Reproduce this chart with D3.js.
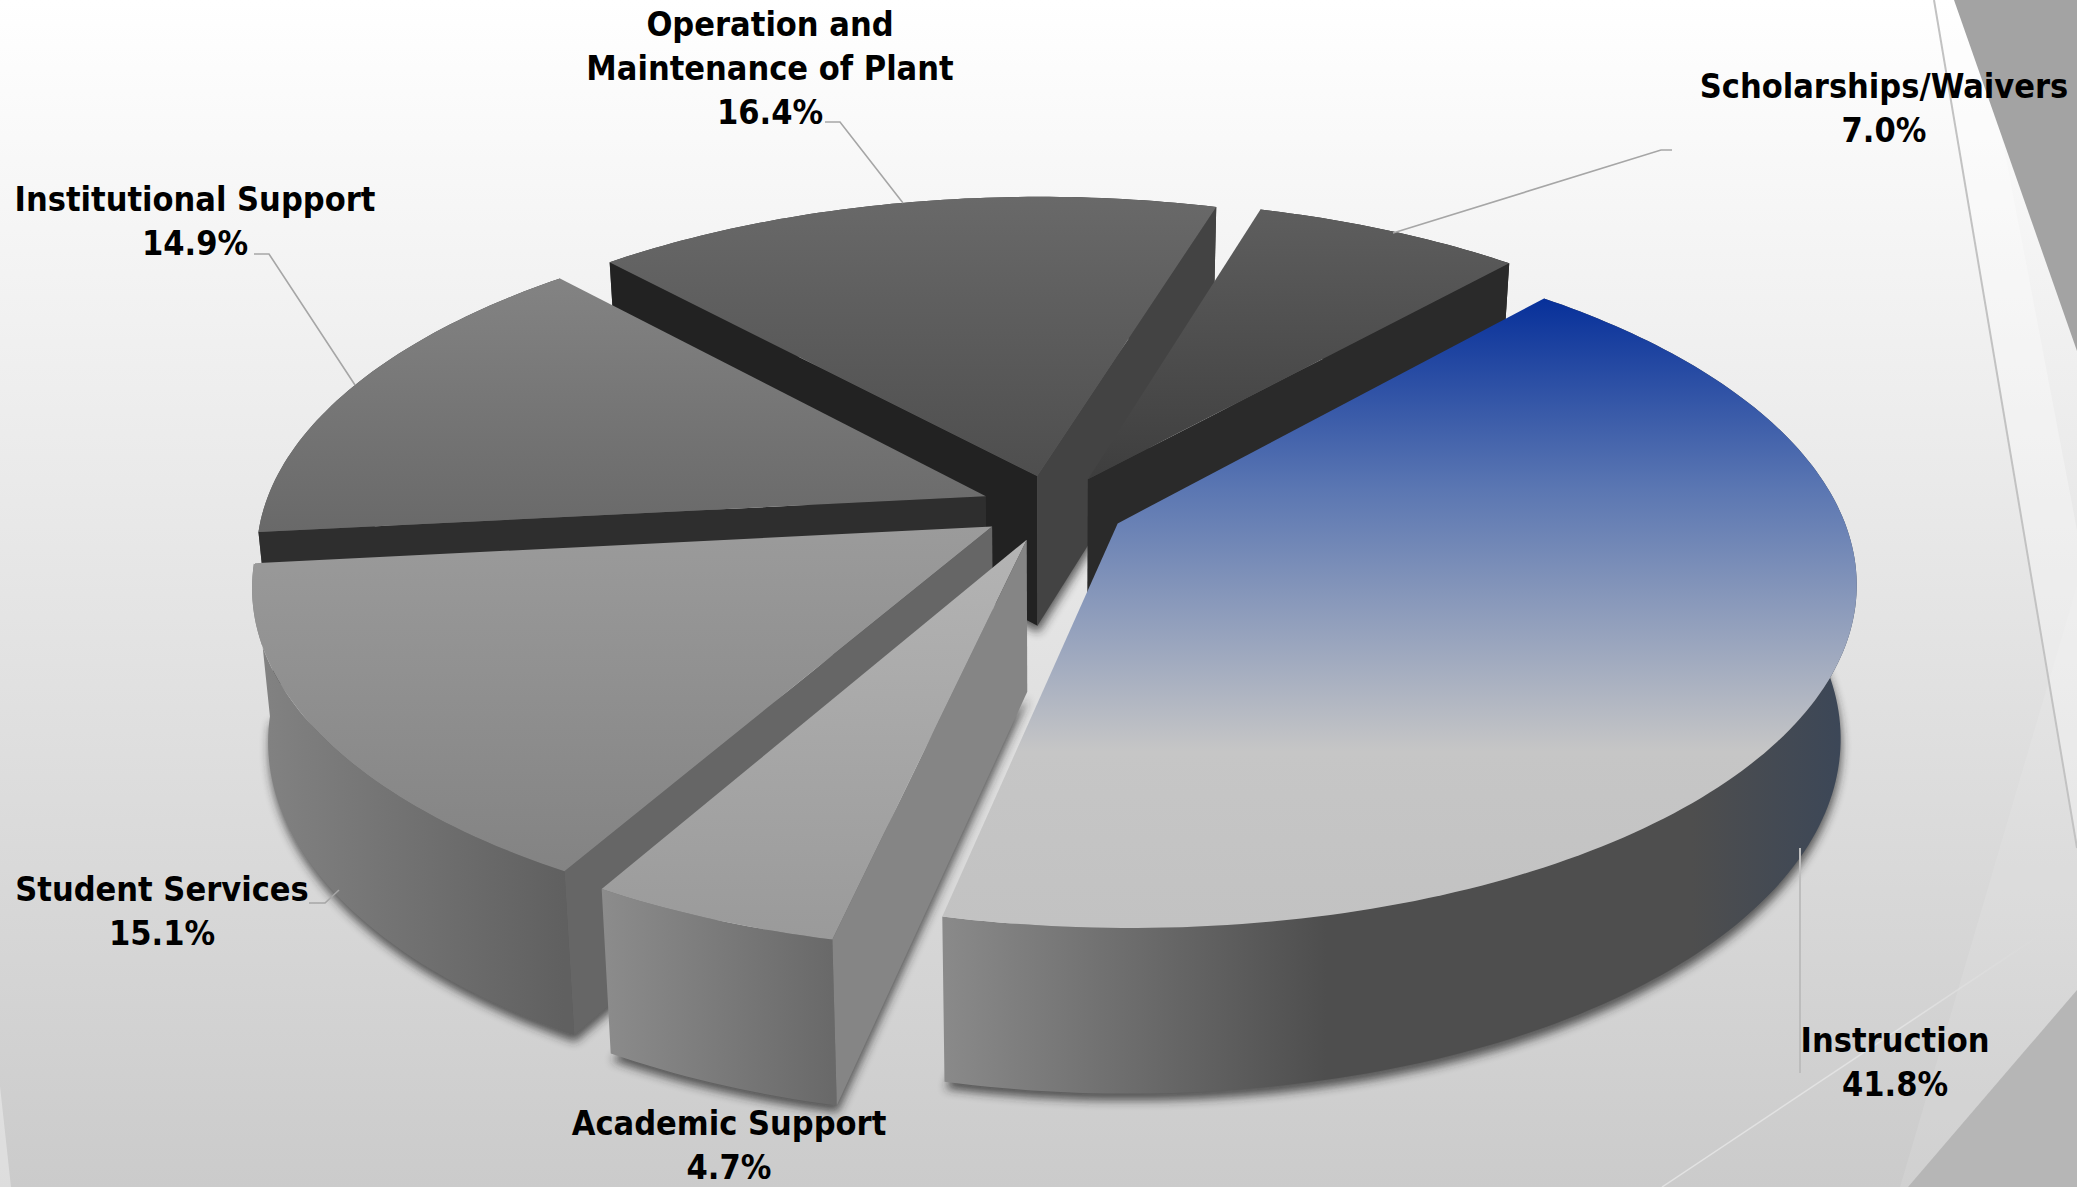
<!DOCTYPE html>
<html><head><meta charset="utf-8">
<script src="https://cdn.jsdelivr.net/npm/d3@7"></script>
<style>html,body{margin:0;padding:0;background:#fff;overflow:hidden}
text{font-family:"DejaVu Sans";font-stretch:condensed;font-weight:bold;fill:#000}</style>
</head><body><svg id="c" width="2077" height="1187"></svg>
<script>
const categories=["Instruction","Academic Support","Student Services","Institutional Support","Operation and Maintenance of Plant","Scholarships/Waivers"];
const values=[41.8,4.7,15.1,14.9,16.4,7.0];
const labelLines=[["Instruction"],["Academic Support"],["Student Services"],["Institutional Support"],["Operation and","Maintenance of Plant"],["Scholarships/Waivers"]];

// styling, one entry per slice
const topStops=[
 [[0,"#07309a"],[.3,"#5a76b2"],[.72,"#c6c6c6"],[1,"#c2c2c2"]],
 [[0,"#b4b4b4"],[1,"#9a9a9a"]],
 [[0,"#9b9b9b"],[1,"#838383"]],
 [[0,"#838383"],[1,"#696969"]],
 [[0,"#696969"],[1,"#4e4e4e"]],
 [[0,"#5e5e5e"],[1,"#3e3e3e"]]];
const rimStops=[
 [[0,"#8a8a8a"],[.42,"#4e4e4e"],[.82,"#4e4e4e"],[1,"#3a4658"]],
 [[0,"#8c8c8c"],[1,"#696969"]],
 [[0,"#838383"],[1,"#606060"]],
 [[0,"#555"],[1,"#444"]],[[0,"#444"],[1,"#333"]],[[0,"#333"],[1,"#222"]]];
const startEdge=["#777","#858585","#666666","#2e2e2e","#222222","#333333"];
const endEdge=["#777","#777","#666","#555","#434343","#2a2a2a"];
const labelPos=[[1895,1040],[729,1123],[162,889],[195,199],[770,24],[1884,86]];
const leaders=[[[1800,848],[1800,1073]],null,[[309,903],[325,903],[339,890]],[[355,385],[269,254],[254,254]],[[903,203],[840,122],[825,122]],[[1393,233],[1661,150],[1672,150]]];
const paintOrder=[4,5,3,2,1,0];

const W=2077,H=1187,cx=1053,cy=508,R=722,K=333.8,P=.1615,D=151,EXPLODE=.1,TAPER=.02,LINE=44,FS=34,START=41.9;
const rad=Math.PI/180;
const svg=d3.select("#c");
const defs=svg.append("defs");
function grad(id,x1,y1,x2,y2,stops){
  const g=defs.append("linearGradient").attr("id",id).attr("gradientUnits","userSpaceOnUse")
    .attr("x1",x1).attr("y1",y1).attr("x2",x2).attr("y2",y2);
  stops.forEach(s=>{const e=g.append("stop").attr("offset",s[0]).attr("stop-color",s[1]); if(s[2]!==undefined)e.attr("stop-opacity",s[2]);});
}
grad("bg",0,0,0,H,[[0,"#ffffff"],[1,"#cbcbcb"]]);
grad("glint",1662,1187,2040,935,[[0,"#e2e2e2",1],[.65,"#e2e2e2",1],[1,"#e2e2e2",0]]);
defs.append("filter").attr("id","sh").attr("x","-10%").attr("y","-10%").attr("width","120%").attr("height","120%")
  .append("feGaussianBlur").attr("stdDeviation",5);

// background
svg.append("rect").attr("width",W).attr("height",H).attr("fill","url(#bg)");
const poly=d3.line();
const deco=svg.append("g");
deco.append("path").attr("d",poly([[1934,0],[1976,0],[2077,530],[2077,848]])+"Z").attr("fill","#fff").attr("opacity",.3);
deco.append("path").attr("d",poly([[2077,585],[1900,1187],[2077,1187]])+"Z").attr("fill","#fff").attr("opacity",.1);
deco.append("path").attr("d",poly([[0,1086],[11,1187],[0,1187]])+"Z").attr("fill","#fff").attr("opacity",.35);
deco.append("path").attr("d",poly([[1954,0],[2077,0],[2077,351]])+"Z").attr("fill","#a3a3a3");
deco.append("path").attr("d",poly([[1908,1187],[2077,990],[2077,1187]])+"Z").attr("fill","#b6b6b6");
deco.append("path").attr("d",poly([[1934,0],[2077,848]])).attr("stroke","#c2c2c2").attr("stroke-width",2).attr("fill","none");
deco.append("path").attr("d",poly([[1662,1187],[2040,935]])).attr("stroke","url(#glint)").attr("stroke-width",1.5).attr("fill","none");

const pie=d3.pie().sort(null).value(d=>d).startAngle(START*rad).endAngle((START+360)*rad);
const arcs=pie(values);

// disk point (a,b) at height h (0 top, 1 bottom) through the tilted camera
function project(a,b,h){
  const w=1+P*b;
  return [cx+R*a/w*(1-TAPER*h), cy+(-K*b)/w+D*h*Math.sqrt(1/w)];
}
function slicePts(d){
  const mid=(d.startAngle+d.endAngle)/2;
  const ox=EXPLODE*Math.sin(mid),oy=EXPLODE*Math.cos(mid);
  const n=Math.max(4,Math.ceil((d.endAngle-d.startAngle)/rad));
  const ang=d3.range(n+1).map(i=>d.startAngle+(d.endAngle-d.startAngle)*i/n);
  const at=h=>ang.map(t=>project(ox+Math.sin(t),oy+Math.cos(t),h));
  return {apexT:project(ox,oy,0),apexB:project(ox,oy,1),arcT:at(0),arcB:at(1)};
}
const pieces=arcs.map((d,i)=>({d,i,p:slicePts(d)}));

// soft shadow of the bottom faces, on the background only
const shadow=svg.append("g").attr("filter","url(#sh)").attr("transform","translate(1,7)").attr("opacity",.7);
paintOrder.forEach(i=>{
  const p=pieces[i].p;
  shadow.append("path").attr("d",poly([p.apexB,...p.arcB])+"Z").attr("fill","#222");
});

const chart=svg.append("g");
paintOrder.forEach(i=>{
  const p=pieces[i].p, g=chart.append("g");
  const last=p.arcT.length-1;
  const xs=d3.extent(p.arcT,q=>q[0]);
  grad("rim"+i,xs[0],0,xs[1],0,rimStops[i]);
  g.append("path").attr("d",poly([...p.arcT,...p.arcB.slice().reverse()])+"Z").attr("fill",`url(#rim${i})`);
  // a cut face shows only when it falls outside the slice's own top
  if(p.arcT[0][0]<p.apexT[0]) g.append("path").attr("d",poly([p.apexT,p.arcT[0],p.arcB[0],p.apexB])+"Z").attr("fill",startEdge[i]);
  if(p.arcT[last][0]>p.apexT[0]) g.append("path").attr("d",poly([p.apexT,p.arcT[last],p.arcB[last],p.apexB])+"Z").attr("fill",endEdge[i]);
  const top=[p.apexT,...p.arcT];
  const ys=d3.extent(top,q=>q[1]);
  grad("top"+i,0,ys[0],0,ys[1],topStops[i]);
  g.append("path").attr("d",poly(top)+"Z").attr("fill",`url(#top${i})`);
});

// leaders and labels
leaders.forEach((l,i)=>{ if(l) svg.append("path").attr("d",poly(l)).attr("fill","none")
  .attr("stroke",i===0?"#bdbdbd":"#a6a6a6").attr("stroke-width",i===0?2:1.6); });
const fmt=d3.format(".1f");
categories.forEach((c,i)=>{
  const lines=[...labelLines[i],fmt(values[i])+"%"];
  const t=svg.append("text").attr("text-anchor","middle").attr("font-size",FS);
  lines.forEach((s,j)=>t.append("tspan").attr("x",labelPos[i][0]).attr("y",labelPos[i][1]+j*LINE+12).text(s));
});
</script></body></html>
